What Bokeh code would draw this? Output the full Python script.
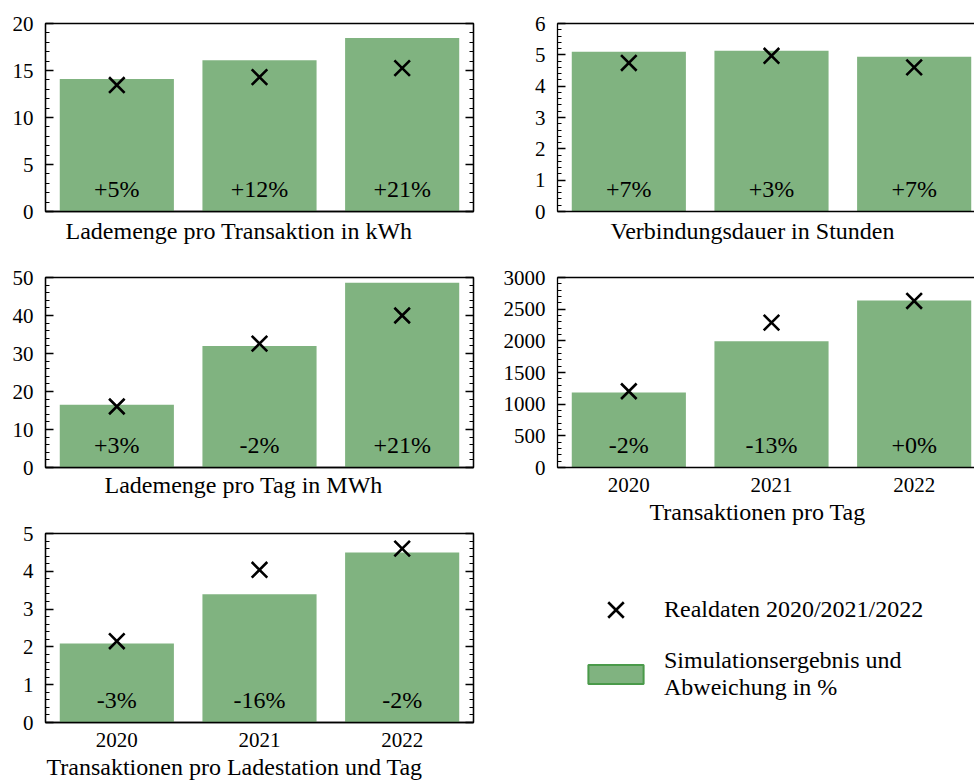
import numpy as np
from bokeh.plotting import figure
from bokeh.models import (Range1d, LinearAxis, FixedTicker, SingleIntervalTicker, Title,
                          Legend, LegendItem, ColumnDataSource)
from bokeh.layouts import row, column
from bokeh.embed import file_html
from bokeh.resources import INLINE
from bokeh.core.properties import value

years = ["2020", "2021", "2022"]

sim_kwh_per_tx = [14.1, 16.1, 18.45]
real_kwh_per_tx = [13.45, 14.3, 15.25]
dev_kwh_per_tx = ["+5%", "+12%", "+21%"]

sim_duration = [5.10, 5.13, 4.94]
real_duration = [4.74, 4.97, 4.60]
dev_duration = ["+7%", "+3%", "+7%"]

sim_mwh_day = [16.5, 32.0, 48.6]
real_mwh_day = [16.05, 32.6, 40.0]
dev_mwh_day = ["+3%", "-2%", "+21%"]

sim_tx_day = [1183, 1992, 2635]
real_tx_day = [1204, 2288, 2630]
dev_tx_day = ["-2%", "-13%", "+0%"]

sim_tx_station = [2.09, 3.39, 4.50]
real_tx_station = [2.15, 4.04, 4.60]
dev_tx_station = ["-3%", "-16%", "-2%"]

labels = ["Lademenge pro Transaktion in kWh", "Verbindungsdauer in Stunden",
          "Lademenge pro Tag in MWh", "Transaktionen pro Tag",
          "Transaktionen pro Ladestation und Tag"]
legend_labels = ["Realdaten 2020/2021/2022", "Simulationsergebnis und\nAbweichung in %"]

BAR = "#80b380"
EDGE = "#4a9a4a"
FONT = "Liberation Serif"
RIGHT_BORDER_LEFT = 64


def hide_labels(ax):
    ax.major_label_text_color = None
    ax.major_label_text_font_size = "1px"
    ax.major_label_standoff = 0


def panel(sim, real, dev, ymax, yint, xlabel, label_offset, show_years, right_col,
          height, frame_h, top=15, title_standoff=8):
    if right_col:
        width, mb_left, mb_right = 481, RIGHT_BORDER_LEFT, 0
    else:
        width, mb_left, mb_right = 493, 45, 20
    frame_w = width - mb_left - mb_right
    unit = 428 / 3.0
    x_end = -0.5 + frame_w / unit
    p = figure(width=width, height=height, min_border_left=mb_left, min_border_right=mb_right,
               min_border_top=top, min_border_bottom=height - top - frame_h,
               x_range=Range1d(-0.5, x_end), y_range=Range1d(0, ymax),
               toolbar_location=None, output_backend="svg", tools="")
    p.grid.visible = False
    p.background_fill_color = "white"
    p.border_fill_color = "white"
    if right_col:
        p.outline_line_color = None
    else:
        p.outline_line_color = "black"
        p.outline_line_width = 1.3

    idx = list(range(len(years)))
    src = ColumnDataSource(dict(x=idx, sim=sim, real=real, dev=dev, zero=[0] * len(years)))
    p.vbar(x="x", top="sim", width=0.8, source=src, fill_color=BAR, line_color=None)
    p.scatter(x="x", y="real", source=src, marker="x", size=22, line_width=2.6,
              line_color="black")
    p.text(x="x", y="zero", text="dev", source=src, y_offset=-23, text_align="center",
           text_baseline="alphabetic", text_font=value(FONT), text_font_size="24px",
           text_color="black")

    xa = p.below[0]
    xa.ticker = FixedTicker(ticks=idx)
    xa.major_label_overrides = {i: y for i, y in zip(idx, years)}
    xa.major_tick_in = 0
    xa.major_tick_out = 0
    xa.minor_tick_in = 0
    xa.minor_tick_out = 0
    xa.axis_line_width = 1.3
    if show_years:
        xa.major_label_standoff = 10
        xa.major_label_text_font = FONT
        xa.major_label_text_font_size = "21px"
        xa.major_label_text_color = "black"
    else:
        hide_labels(xa)

    ya = p.left[0]
    ya.ticker = SingleIntervalTicker(interval=yint, num_minor_ticks=5)
    ya.major_tick_in = 8
    ya.major_tick_out = 0
    ya.minor_tick_in = 4
    ya.minor_tick_out = 0
    ya.major_tick_line_width = 1.3
    ya.minor_tick_line_width = 1.1
    ya.axis_line_width = 1.3
    ya.major_label_standoff = 12
    ya.major_label_text_font = FONT
    ya.major_label_text_font_size = "21px"
    ya.major_label_text_color = "black"

    if not right_col:
        ra = LinearAxis(ticker=SingleIntervalTicker(interval=yint, num_minor_ticks=5),
                        major_tick_in=8, major_tick_out=0, minor_tick_in=4, minor_tick_out=0,
                        major_tick_line_width=1.3, minor_tick_line_width=1.1,
                        axis_line_width=1.3)
        hide_labels(ra)
        p.add_layout(ra, "right")
    else:
        ta = LinearAxis(ticker=FixedTicker(ticks=[]), major_tick_in=0, major_tick_out=0,
                        minor_tick_in=0, minor_tick_out=0, axis_line_width=1.3)
        hide_labels(ta)
        p.add_layout(ta, "above")

    t = Title(text=xlabel, align="left", offset=label_offset, text_font=FONT,
              text_font_size="24px", text_font_style="normal", text_color="black",
              standoff=title_standoff)
    p.add_layout(t, "below")
    return p


tl = panel(sim_kwh_per_tx, real_kwh_per_tx, dev_kwh_per_tx, 20, 5, labels[0], 20,
           False, False, 262, 188, top=23)
ml = panel(sim_mwh_day, real_mwh_day, dev_mwh_day, 50, 10, labels[2], 59,
           False, False, 256, 190, title_standoff=5)
bl = panel(sim_tx_station, real_tx_station, dev_tx_station, 5, 1, labels[4], 1,
           True, False, 264, 189, title_standoff=4)
tr = panel(sim_duration, real_duration, dev_duration, 6, 1, labels[1], 53,
           False, True, 262, 188, top=23)
mr = panel(sim_tx_day, real_tx_day, dev_tx_day, 3000, 500, labels[3], 92,
           True, True, 268, 190, title_standoff=4)

idx = list(range(len(years)))

# legend panel: entries refer to hidden renderers of the real / simulated data
lg = figure(width=481, height=252, x_axis_type=None, y_axis_type=None,
            x_range=Range1d(-0.5, 2.5), y_range=Range1d(0, 5),
            min_border_left=RIGHT_BORDER_LEFT, min_border_top=28, min_border_right=0,
            min_border_bottom=57, toolbar_location=None, output_backend="svg", tools="")
lg.outline_line_color = None
lg.grid.visible = False
lg.border_fill_color = "white"
r_real = lg.scatter(x=idx, y=real_tx_station, marker="x", size=22, line_width=2.6,
                    line_color="black", visible=False)
r_sim = lg.vbar(x=idx, top=sim_tx_station, width=0.8, fill_color=BAR, line_color=EDGE,
                line_width=2, visible=False)
common = dict(glyph_width=69, label_standoff=14, padding=0, margin=24,
              border_line_color=None, background_fill_alpha=0, inactive_fill_alpha=0,
              label_text_font=FONT, label_text_font_size="24px", label_text_color="black",
              label_text_line_height=1.2)
leg_a = Legend(items=[LegendItem(label=legend_labels[0], renderers=[r_real])],
               location="top_left", glyph_height=55, **common)
leg_b = Legend(items=[LegendItem(label=legend_labels[1], renderers=[r_sim])],
               location="bottom_left", glyph_height=24, **common)
lg.add_layout(leg_a)
lg.add_layout(leg_b)

layout = row(column(tl, ml, bl), column(tr, mr, lg))

open("out.html", "w").write(file_html(layout, INLINE))
